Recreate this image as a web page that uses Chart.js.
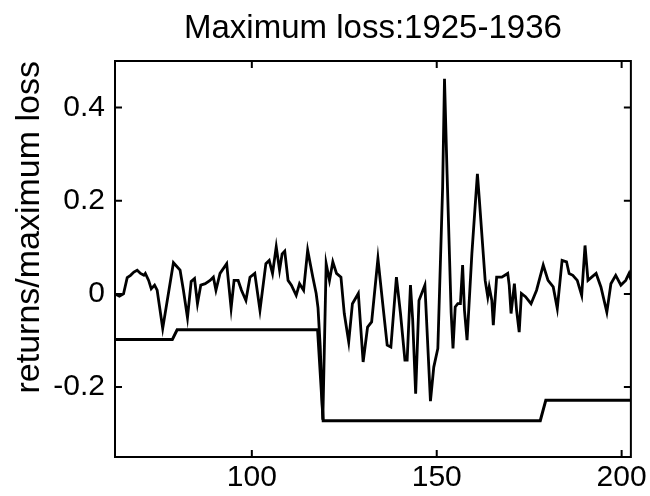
<!DOCTYPE html>
<html><head><meta charset="utf-8">
<script src="https://cdn.jsdelivr.net/npm/chart.js@4/dist/chart.umd.min.js"></script>
<style>html,body{margin:0;padding:0;background:#fff}#wrap{width:650px;height:496px}</style>
</head><body><div id="wrap"><canvas id="c" width="650" height="496"></canvas></div>
<script>
const titleText = 'Maximum loss:1925-1936';
const yLabel = 'returns/maximum loss';
const xTickValues = [100, 150, 200];
const yTickValues = [-0.2, 0, 0.2, 0.4];
const xRange = [63, 202.5];
const yRange = [-0.35, 0.5];

const returnX = [63, 64.2, 65.3, 66.3, 67.2, 68.1, 69.0, 69.9, 70.8, 71.2, 72.1, 72.8, 73.7, 74.4, 75.9, 78.8, 80.6, 81.5, 82.6, 83.6, 84.5, 85.3, 86.2, 87.4, 88.7, 89.6, 90.3, 91.4, 93.2, 94.4, 95.2, 96.3, 97.2, 98.4, 99.5, 100.8, 102.2, 103.8, 104.7, 105.6, 106.6, 107.5, 108.2, 108.9, 109.8, 110.7, 112.0, 112.9, 114.0, 115.1, 116.5, 117.4, 117.9, 118.5, 119.2, 120.1, 121.0, 121.9, 122.9, 124.1, 125.0, 126.2, 127.2, 128.8, 130.1, 131.3, 132.4, 134.1, 135.3, 136.6, 137.6, 139.1, 140.2, 141.4, 142.0, 142.9, 143.5, 144.3, 145.2, 146.8, 148.3, 149.2, 150.3, 151.6, 152.1, 152.8, 153.9, 154.4, 155.0, 155.7, 156.4, 157.0, 157.5, 158.2, 159.5, 160.4, 161.0, 161.5, 163.1, 163.8, 164.2, 164.9, 165.3, 166.2, 167.6, 169.2, 169.6, 170.1, 171.0, 171.6, 172.3, 172.9, 174.0, 175.5, 177.0, 178.8, 180.1, 181.5, 182.6, 183.9, 185.1, 185.8, 186.8, 188.0, 189.2, 190.1, 190.9, 191.9, 193.1, 194.4, 196.0, 197.1, 198.4, 199.8, 201.1, 202.0, 202.5];
const returnY = [0.0, -0.005, 0.0, 0.035, 0.040, 0.047, 0.051, 0.044, 0.040, 0.044, 0.029, 0.011, 0.019, 0.008, -0.074, 0.067, 0.051, 0.008, -0.051, 0.027, 0.033, -0.021, 0.019, 0.022, 0.029, 0.036, 0.008, 0.044, 0.065, -0.031, 0.029, 0.029, 0.008, -0.014, 0.036, 0.044, -0.035, 0.065, 0.072, 0.044, 0.101, 0.051, 0.086, 0.092, 0.029, 0.019, -0.003, 0.022, 0.008, 0.094, 0.036, 0.001, -0.03, -0.114, -0.27, 0.065, 0.029, 0.069, 0.044, 0.036, -0.042, -0.103, -0.021, 0.001, -0.146, -0.071, -0.060, 0.076, -0.014, -0.110, -0.114, 0.036, -0.042, -0.142, -0.142, 0.019, -0.056, -0.214, -0.014, 0.019, -0.23, -0.157, -0.117, 0.23, 0.462, 0.258, -0.04, -0.117, -0.028, -0.021, -0.021, 0.062, -0.035, -0.099, 0.086, 0.19, 0.258, 0.205, 0.029, -0.006, 0.015, -0.014, -0.067, 0.036, 0.036, 0.044, 0.019, -0.042, 0.022, -0.035, -0.082, 0.001, -0.006, -0.021, 0.008, 0.062, 0.029, 0.015, -0.031, 0.072, 0.069, 0.044, 0.040, 0.029, -0.003, 0.104, 0.029, 0.036, 0.044, 0.015, -0.039, 0.022, 0.040, 0.019, 0.029, 0.044, 0.03];

const lossX = [63, 78.5, 79.8, 117.8, 119.3, 178.0, 179.5, 202.5];
const lossY = [-0.098, -0.098, -0.077, -0.077, -0.272, -0.272, -0.228, -0.228];

const FONT = "'Liberation Sans', Arial, sans-serif";

const boxTicks = {
  id: 'boxTicks',
  afterDatasetsDraw(chart) {
    const {ctx, chartArea: a, scales} = chart;
    ctx.save();
    ctx.strokeStyle = '#000';
    ctx.lineWidth = 2;
    ctx.strokeRect(a.left, a.top, a.right - a.left, a.bottom - a.top);
    const L = 7;
    ctx.beginPath();
    scales.x.ticks.forEach(t => {
      const px = scales.x.getPixelForValue(t.value);
      ctx.moveTo(px, a.bottom); ctx.lineTo(px, a.bottom - L);
      ctx.moveTo(px, a.top); ctx.lineTo(px, a.top + L);
    });
    scales.y.ticks.forEach(t => {
      const py = scales.y.getPixelForValue(t.value);
      ctx.moveTo(a.left, py); ctx.lineTo(a.left + L, py);
      ctx.moveTo(a.right, py); ctx.lineTo(a.right - L, py);
    });
    ctx.stroke();
    ctx.restore();
  }
};

new Chart(document.getElementById('c'), {
  type: 'line',
  data: {
    datasets: [
      { data: returnX.map((x, i) => ({x, y: returnY[i]})), borderColor: '#000', borderWidth: 2.8, pointRadius: 0, tension: 0, fill: false },
      { data: lossX.map((x, i) => ({x, y: lossY[i]})), borderColor: '#000', borderWidth: 3, pointRadius: 0, tension: 0, fill: false }
    ]
  },
  options: {
    responsive: false,
    animation: false,
    devicePixelRatio: 1,
    layout: { padding: { left: 0, right: 17, top: 0, bottom: 0 } },
    plugins: {
      legend: { display: false },
      tooltip: { enabled: false },
      title: { display: true, text: titleText, fullSize: false, color: '#000',
               font: { family: FONT, size: 33, weight: 'normal' }, padding: { top: 9, bottom: 12.4 } }
    },
    scales: {
      x: {
        type: 'linear', min: xRange[0], max: xRange[1],
        afterBuildTicks: s => { s.ticks = xTickValues.map(v => ({value: v})); },
        afterFit: s => { s.height = 39; },
        grid: { display: false, drawTicks: false },
        border: { display: false },
        ticks: { color: '#000', font: { family: FONT, size: 30 }, padding: 3, maxRotation: 0, autoSkip: false }
      },
      y: {
        type: 'linear', min: yRange[0], max: yRange[1],
        afterBuildTicks: s => { s.ticks = yTickValues.map(v => ({value: v})); },
        afterFit: s => { s.width = 115; },
        grid: { display: false, drawTicks: false },
        border: { display: false },
        ticks: { color: '#000', font: { family: FONT, size: 30 }, padding: 10, autoSkip: false,
                 callback: v => String(v) },
        title: { display: true, text: yLabel, align: 'end', color: '#000', font: { family: FONT, size: 34 }, padding: { top: 9, bottom: 0 } }
      }
    }
  },
  plugins: [boxTicks]
});
</script></body></html>
